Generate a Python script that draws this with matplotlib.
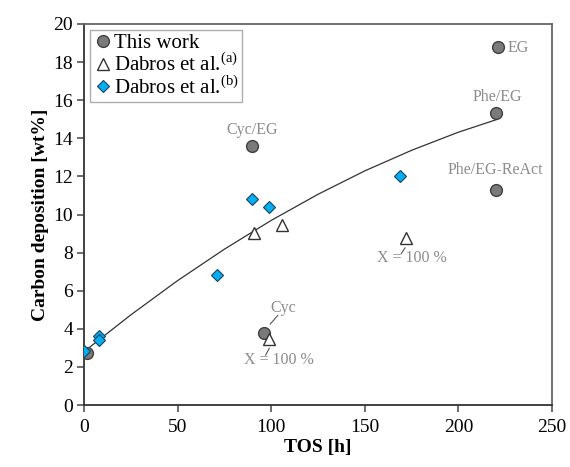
import matplotlib
matplotlib.use("Agg")
import matplotlib.pyplot as plt

plt.rcParams['font.family'] = ['Liberation Serif', 'DejaVu Serif']
plt.rcParams['mathtext.fontset'] = 'custom'
plt.rcParams['mathtext.rm'] = 'Liberation Serif'

# This work
tw_x = [1.5, 90, 96, 221, 220, 220]
tw_y = [2.75, 13.6, 3.8, 18.8, 15.35, 11.3]
tw_labels = ["", "Cyc/EG", "Cyc", "EG", "Phe/EG", "Phe/EG-ReAct"]

# Dabros et al. (a)
da_x = [91, 106, 99, 172]
da_y = [9.05, 9.45, 3.45, 8.75]

# Dabros et al. (b)
db_x = [0, 8, 8, 71, 90, 99, 169]
db_y = [2.85, 3.6, 3.4, 6.8, 10.8, 10.4, 12.0]

# trend line
trend_x = [0, 25, 50, 75, 100, 125, 150, 175, 200, 220]
trend_y = [2.8, 4.73, 6.53, 8.18, 9.69, 11.06, 12.29, 13.37, 14.32, 14.97]

fig = plt.figure(figsize=(5.7, 4.67), dpi=100)
ax = fig.add_axes([84/570, 1 - 405/467, (552 - 84)/570, (405 - 24)/467])

ax.plot(trend_x, trend_y, color='#333333', lw=0.9, zorder=2)
ax.plot(tw_x, tw_y, 'o', ms=8.5, mfc='#7a7a7a', mec='#3f3f3f', mew=1.0,
        ls='none', label='This work', zorder=3)
ax.plot(da_x, da_y, '^', ms=9, mfc='white', mec='#333333', mew=1.0,
        ls='none', label=r'Dabros et al.$^{\rm (a)}$', zorder=3)
ax.plot(db_x, db_y, 'D', ms=6, mfc='#00b0f0', mec='#1f3f5f', mew=0.8,
        ls='none', label=r'Dabros et al.$^{\rm (b)}$', zorder=4)

gray = '#8c8c8c'
fs = 11.5
ax.text(90, 14.0, "Cyc/EG", color=gray, fontsize=fs, ha='center', va='bottom')
ax.text(226.5, 18.75, "EG", color=gray, fontsize=fs, ha='left', va='center')
ax.text(221, 15.75, "Phe/EG", color=gray, fontsize=fs, ha='center', va='bottom')
ax.text(219.5, 11.9, "Phe/EG-ReAct", color=gray, fontsize=fs, ha='center', va='bottom')
ax.text(106.5, 4.65, "Cyc", color=gray, fontsize=fs, ha='center', va='bottom')
ax.plot([103.5, 99.5], [4.7, 4.25], color='#555555', lw=0.8)
ax.text(104, 2.38, "X = 100 %", color=gray, fontsize=fs, ha='center', va='center')
ax.plot([99, 97], [2.98, 2.62], color='#555555', lw=0.8)
ax.text(175, 7.7, "X = 100 %", color=gray, fontsize=fs, ha='center', va='center')
ax.plot([171.5, 169.5], [8.25, 7.95], color='#555555', lw=0.8)

ax.set_xlim(0, 250)
ax.set_ylim(0, 20)
ax.set_xticks(range(0, 251, 50))
ax.set_yticks(range(0, 21, 2))
ax.tick_params(axis='both', labelsize=14, direction='out', length=5,
               width=1.2, color='#555555')
ax.tick_params(axis='x', pad=5)
ax.tick_params(axis='y', pad=3)
for s in ax.spines.values():
    s.set_color('#666666')
    s.set_linewidth(1.3)
ax.spines['left'].set_color('#333333')
ax.spines['bottom'].set_color('#333333')

ax.set_xlabel("TOS [h]", fontsize=14, fontweight='bold', labelpad=2)
ax.set_ylabel("Carbon deposition [wt%]", fontsize=14, fontweight='bold', labelpad=3)

leg = ax.legend(loc='upper left', fontsize=15, frameon=True, fancybox=False,
                edgecolor='#999999', handletextpad=0.1, handlelength=0.9,
                borderpad=0.15, labelspacing=0.0, borderaxespad=0.3)
leg.get_frame().set_linewidth(1.0)

fig.savefig("out.png", dpi=100)
